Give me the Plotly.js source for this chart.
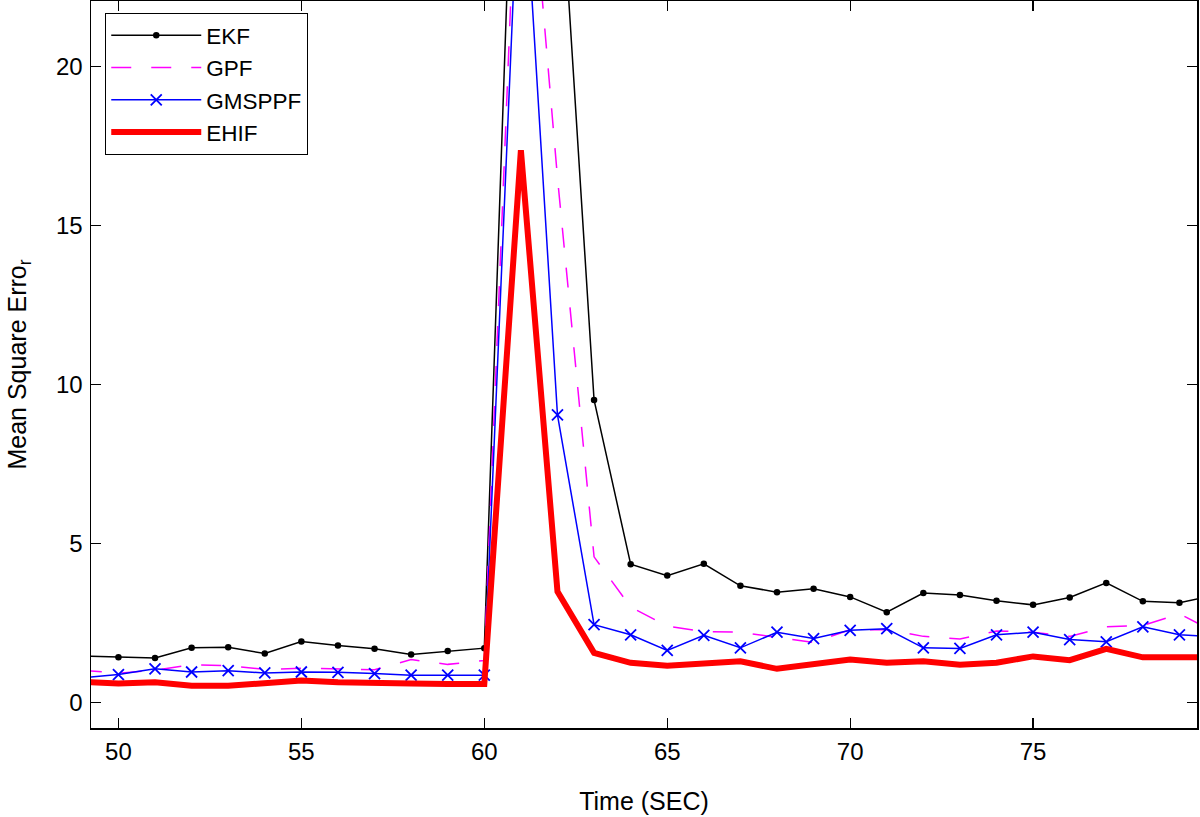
<!DOCTYPE html>
<html>
<head>
<meta charset="utf-8">
<script src="https://cdn.plot.ly/plotly-3.0.1.min.js"></script>
<style>
  html, body { margin: 0; padding: 0; background: #ffffff; }
  #chart { width: 1200px; height: 817px; }
</style>
</head>
<body>
<div id="chart"></div>
<script>
const time = [49, 50, 51, 52, 53, 54, 55, 56, 57, 58, 59, 60, 61, 62, 63, 64, 65, 66, 67, 68, 69, 70, 71, 72, 73, 74, 75, 76, 77, 78, 79, 80];

const ekf = [1.46, 1.42, 1.40, 1.72, 1.74, 1.54, 1.92, 1.79, 1.69, 1.51, 1.62, 1.71,
             35.0, 27.7, 9.51, 4.35, 3.99, 4.36, 3.67, 3.47, 3.58, 3.32, 2.84, 3.44,
             3.38, 3.20, 3.07, 3.30, 3.76, 3.18, 3.14, 3.38];

const gpf = [1.02, 0.92, 1.02, 1.19, 1.16, 1.04, 1.08, 1.05, 1.03, 1.35, 1.20, 1.32,
             30.0, 16.5, 4.58, 3.00, 2.40, 2.23, 2.21, 2.05, 1.89, 2.29, 2.29, 2.08,
             2.00, 2.25, 2.21, 2.08, 2.38, 2.42, 2.79, 2.20];

const gmsppf = [0.78, 0.88, 1.06, 0.96, 1.00, 0.93, 0.96, 0.95, 0.91, 0.86, 0.86, 0.86,
                27.8, 9.04, 2.45, 2.13, 1.64, 2.11, 1.72, 2.21, 2.01, 2.27, 2.32, 1.72,
                1.70, 2.13, 2.21, 1.98, 1.91, 2.38, 2.13, 2.07];

const ehif = [0.65, 0.60, 0.64, 0.53, 0.53, 0.60, 0.69, 0.64, 0.64, 0.60, 0.58, 0.58,
              17.36, 3.49, 1.56, 1.25, 1.16, 1.22, 1.30, 1.06, 1.22, 1.35, 1.25, 1.30,
              1.19, 1.25, 1.45, 1.33, 1.69, 1.42, 1.42, 1.42];

const seriesNames = ['EKF', 'GPF', 'GMSPPF', 'EHIF'];
const xTickVals = [50, 55, 60, 65, 70, 75];
const yTickVals = [0, 5, 10, 15, 20];

const FONT = 'Liberation Sans, Arial, Helvetica, sans-serif';

const traces = [
  {
    x: time, y: ekf, name: seriesNames[0], type: 'scatter', mode: 'lines+markers',
    line: { color: '#000000', width: 1.5 },
    marker: { symbol: 'circle', size: 6.5, color: '#000000' }
  },
  {
    x: time, y: gpf, name: seriesNames[1], type: 'scatter', mode: 'lines',
    line: { color: '#ff00ff', width: 1.5, dash: '20px,20px' }
  },
  {
    x: time, y: gmsppf, name: seriesNames[2], type: 'scatter', mode: 'lines+markers',
    line: { color: '#0000ff', width: 1.5 },
    marker: { symbol: 'x-thin', size: 11, color: '#0000ff', line: { color: '#0000ff', width: 1.8 } }
  },
  {
    x: time, y: ehif, name: seriesNames[3], type: 'scatter', mode: 'lines',
    line: { color: '#ff0000', width: 6 }
  }
];

const layout = {
  width: 1200, height: 817,
  paper_bgcolor: '#ffffff', plot_bgcolor: '#ffffff',
  margin: { l: 91, r: 3, t: 1, b: 89 },
  font: { family: FONT, size: 24, color: '#000000' },
  showlegend: true,
  legend: {
    x: 0.0127, y: 0.9835, xanchor: 'left', yanchor: 'top',
    bgcolor: '#ffffff', bordercolor: '#000000', borderwidth: 1.2,
    font: { family: FONT, size: 22.5, color: '#000000' },
    itemwidth: 90, tracegroupgap: 0, entrywidth: 112
  },
  xaxis: {
    range: [49.25, 79.48],
    tickvals: xTickVals,
    ticktext: xTickVals.map(String),
    ticks: 'inside', ticklen: 10, tickwidth: 1.2, tickcolor: '#000000',
    showline: true, linecolor: '#000000', linewidth: 1.5, mirror: 'ticks',
    showgrid: false, zeroline: false,
    ticklabelstandoff: 2,
    tickfont: { family: FONT, size: 24, color: '#000000' },
    title: { text: 'Time (SEC)', font: { family: FONT, size: 25, color: '#000000' }, standoff: 28 }
  },
  yaxis: {
    range: [-0.8, 22.05],
    tickvals: yTickVals,
    ticktext: yTickVals.map(String),
    ticks: 'inside', ticklen: 10, tickwidth: 1.2, tickcolor: '#000000',
    showline: true, linecolor: '#000000', linewidth: 1.5, mirror: 'ticks',
    showgrid: false, zeroline: false,
    ticklabelstandoff: 2,
    tickfont: { family: FONT, size: 24, color: '#000000' },
    title: { text: 'Mean Square Erro<sub>r</sub>', font: { family: FONT, size: 25, color: '#000000' }, standoff: 22 }
  }
};

Plotly.newPlot('chart', traces, layout, { displayModeBar: false, staticPlot: true });
</script>
</body>
</html>
